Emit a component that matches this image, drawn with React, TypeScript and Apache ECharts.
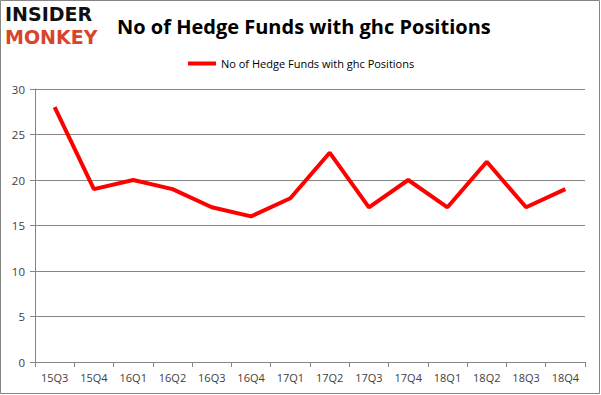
import React, { useEffect, useRef } from "react";
import * as echarts from "echarts";

const categories = ["15Q3", "15Q4", "16Q1", "16Q2", "16Q3", "16Q4", "17Q1", "17Q2", "17Q3", "17Q4", "18Q1", "18Q2", "18Q3", "18Q4"];
const values = [28, 19, 20, 19, 17, 16, 18, 23, 17, 20, 17, 22, 17, 19];
const seriesName = "No of Hedge Funds with ghc Positions";

export default function App() {
  const ref = useRef<HTMLDivElement>(null);
  useEffect(() => {
    document.body.style.margin = "0";
    const chart = echarts.init(ref.current!, null, { renderer: "svg" });
    chart.setOption({
      animation: false,
      backgroundColor: "#ffffff",
      title: {
        text: seriesName,
        left: 112,
        top: 11,
        textStyle: { fontFamily: "Open Sans", fontWeight: "bold", fontSize: 20, color: "#000" },
      },
      legend: {
        data: [seriesName],
        top: 53,
        left: 183,
        itemWidth: 28,
        itemHeight: 4,
        itemGap: 4,
        icon: "rect",
        textStyle: { fontFamily: "Open Sans", fontSize: 11, color: "#000" },
      },
      grid: { left: 35, right: 16, top: 89, bottom: 33 },
      xAxis: {
        type: "category",
        data: categories,
        boundaryGap: true,
        axisLine: { lineStyle: { color: "#868686" } },
        axisTick: { show: true, lineStyle: { color: "#868686" } },
        axisLabel: { color: "#404040", fontSize: 11, fontFamily: "Open Sans", margin: 10 },
      },
      yAxis: {
        type: "value",
        min: 0,
        max: 30,
        interval: 5,
        axisLine: { show: true, lineStyle: { color: "#868686" } },
        axisTick: { show: true, lineStyle: { color: "#868686" } },
        splitLine: { lineStyle: { color: "#868686" } },
        axisLabel: { color: "#404040", fontSize: 11.5, fontFamily: "Open Sans", margin: 10 },
      },
      series: [
        {
          name: seriesName,
          type: "line",
          data: values,
          symbol: "none",
          lineStyle: { color: "#ff0000", width: 4 },
          itemStyle: { color: "#ff0000" },
        },
      ],
      graphic: [
        {
          type: "rect",
          shape: { x: 0.5, y: 0.5, width: 599, height: 393 },
          style: { fill: "none", stroke: "#868686", lineWidth: 1 },
          silent: true,
        },
        {
          type: "text",
          left: 5,
          top: 4,
          style: {
            text: "{a|INSIDER}\n{b|MONKEY}",
            rich: {
              a: { fontFamily: "DejaVu Sans", fontWeight: "bold", fontSize: 19, lineHeight: 23, fill: "#111" },
              b: { fontFamily: "DejaVu Sans", fontWeight: "bold", fontSize: 19, lineHeight: 23, fill: "#d9442b" },
            },
          },
        },
      ],
    });
    return () => chart.dispose();
  }, []);
  return <div ref={ref} style={{ width: 601, height: 395 }} />;
}
